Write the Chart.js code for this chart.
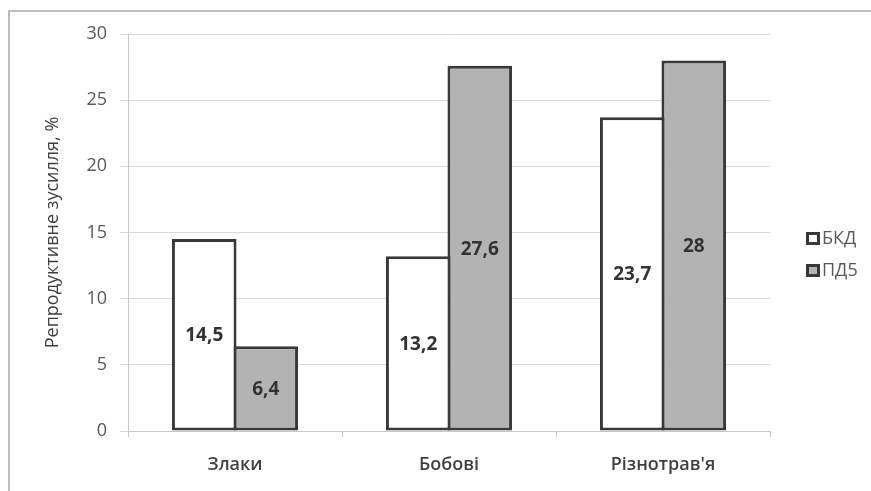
<!DOCTYPE html>
<html lang="uk">
<head>
<meta charset="utf-8">
<title>Репродуктивне зусилля</title>
<script src="https://cdn.jsdelivr.net/npm/chart.js@4/dist/chart.umd.min.js"></script>
<style>
  html, body { margin: 0; padding: 0; background: #fff; }
  #wrap { position: relative; width: 871px; height: 491px; overflow: hidden; }
  #frame {
    position: absolute; left: 8px; top: 10px; width: 900px; height: 600px;
    border-left: 2px solid #bdbdbd; border-top: 2px solid #bdbdbd;
    pointer-events: none;
  }
  canvas { position: absolute; left: 0; top: 0; }
</style>
</head>
<body>
<div id="wrap">
  <canvas id="chart" width="871" height="491"></canvas>
  <div id="frame"></div>
</div>
<script>
// Groups of plants and the share of reproductive effort for each site
const categories = ['Злаки', 'Бобові', "Різнотрав'я"];
const seriesNames = ['БКД', 'ПД5'];
const bkdValues = [14.5, 13.2, 23.7];
const pd5Values = [6.4, 27.6, 28];
const yTicks = [0, 5, 10, 15, 20, 25, 30];
const yTitle = 'Репродуктивне зусилля, %';

const FONT = "'Open Sans', 'DejaVu Sans', sans-serif";
const fills = ['#ffffff', '#b3b3b3'];
const edge = '#383838';

const fmt = v => String(v).replace('.', ',');

// Value labels centred inside each bar
const barLabels = {
  id: 'barLabels',
  afterDatasetsDraw(chart) {
    const ctx = chart.ctx;
    ctx.save();
    ctx.font = `bold 19px ${FONT}`;
    ctx.fillStyle = '#333333';
    ctx.textAlign = 'center';
    ctx.textBaseline = 'middle';
    chart.data.datasets.forEach((ds, i) => {
      chart.getDatasetMeta(i).data.forEach((bar, j) => {
        const p = bar.getProps(['x', 'y', 'base'], true);
        ctx.fillText(fmt(ds.data[j]), p.x, (p.y + p.base) / 2 + 1);
      });
    });
    ctx.restore();
  }
};

// Legend on the right side of the plot
const sideLegend = {
  id: 'sideLegend',
  afterDraw(chart) {
    const ctx = chart.ctx;
    const x0 = chart.chartArea.right + 36;
    const rows = [238, 270];
    ctx.save();
    ctx.font = `18px ${FONT}`;
    ctx.textBaseline = 'middle';
    chart.data.datasets.forEach((ds, i) => {
      const y = rows[i];
      ctx.fillStyle = ds.backgroundColor;
      ctx.fillRect(x0, y - 6, 14, 13);
      ctx.lineWidth = 3;
      ctx.strokeStyle = edge;
      ctx.strokeRect(x0 + 1.5, y - 4.5, 11, 10);
      ctx.fillStyle = '#595959';
      ctx.fillText(ds.label, x0 + 16, y + 1);
    });
    ctx.restore();
  }
};

new Chart(document.getElementById('chart'), {
  type: 'bar',
  data: {
    labels: categories,
    datasets: [
      { label: seriesNames[0], data: bkdValues, backgroundColor: fills[0] },
      { label: seriesNames[1], data: pd5Values, backgroundColor: fills[1] }
    ]
  },
  options: {
    responsive: false,
    animation: false,
    devicePixelRatio: 1,
    layout: { padding: { left: 0, right: 101, top: 34, bottom: 0 } },
    datasets: {
      bar: {
        borderColor: edge,
        borderWidth: 3,
        borderSkipped: false,
        categoryPercentage: 0.575,
        barPercentage: 1.05
      }
    },
    plugins: {
      legend: { display: false },
      tooltip: { enabled: false }
    },
    scales: {
      x: {
        grid: {
          offset: true,
          drawOnChartArea: false,
          drawTicks: true,
          tickLength: 6,
          color: '#c8c8c8'
        },
        border: { color: '#c8c8c8', width: 1 },
        ticks: {
          padding: 17,
          color: '#404040',
          font: { family: FONT, size: 18, weight: '600' }
        },
        afterFit(scale) { scale.height = 60; }
      },
      y: {
        min: 0,
        max: 30,
        afterBuildTicks(scale) { scale.ticks = yTicks.map(v => ({ value: v })); },
        grid: { color: '#d9d9d9', tickLength: 8 },
        border: { color: '#c8c8c8', width: 1 },
        ticks: {
          padding: 13,
          color: '#595959',
          font: { family: FONT, size: 18 }
        },
        title: {
          display: true,
          text: yTitle,
          color: '#404040',
          padding: { top: 42, bottom: 0 },
          font: { family: FONT, size: 18 }
        },
        afterFit(scale) { scale.width = 128; }
      }
    }
  },
  plugins: [barLabels, sideLegend]
});
</script>
</body>
</html>
